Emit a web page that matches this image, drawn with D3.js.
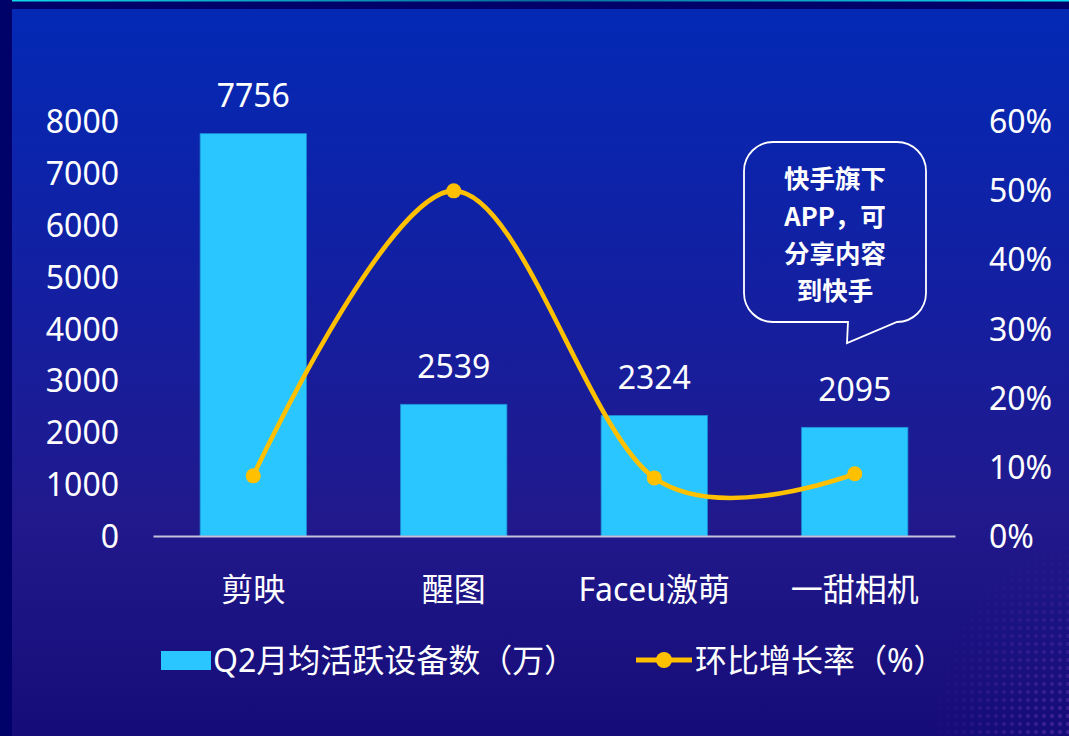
<!DOCTYPE html>
<html><head><meta charset="utf-8">
<script src="https://cdn.jsdelivr.net/npm/d3@7"></script>
<style>html,body{margin:0;padding:0;background:#01016a;} svg{display:block;}</style>
</head><body><svg id="c" width="1069" height="736"></svg>
<script>
// ---- data ----
const categories = ["剪映", "醒图", "Faceu激萌", "一甜相机"];
const activeDevices = [7756, 2539, 2324, 2095];          // Q2月均活跃设备数（万）
const growthRate = [8.7, 49.9, 8.4, 9.0];                // 环比增长率（%）
const leftTicks = [0, 1000, 2000, 3000, 4000, 5000, 6000, 7000, 8000];
const rightTicks = [0, 10, 20, 30, 40, 50, 60];
const seriesNames = ["Q2月均活跃设备数（万）", "环比增长率（%）"];
const calloutLines = ["快手旗下", "APP，可", "分享内容", "到快手"];

// ---- setup ----
const W = 1069, H = 736;
const svg = d3.select("#c");
const FONT = "'Noto Sans','Noto Sans CJK SC',sans-serif";
const fs = 32;
const barColor = "#29c6ff", lineColor = "#ffc000";

const defs = svg.append("defs");
const bg = defs.append("linearGradient").attr("id", "bg").attr("x1", 0).attr("y1", 0).attr("x2", 0).attr("y2", 1);
[[0, "#0329b5"], [0.4, "#141fa0"], [0.7, "#21198c"], [1, "#160c78"]].forEach(s =>
  bg.append("stop").attr("offset", s[0]).attr("stop-color", s[1]));
const topLine = defs.append("linearGradient").attr("id", "tl");
[[0, "#10d8e8"], [0.5, "#0a6a9a"], [1, "#10e0f0"]].forEach(s =>
  topLine.append("stop").attr("offset", s[0]).attr("stop-color", s[1]));
// dotted decoration bottom-right
const pat = defs.append("pattern").attr("id", "dots").attr("width", 8).attr("height", 8).attr("patternUnits", "userSpaceOnUse");
pat.append("circle").attr("cx", 4).attr("cy", 4).attr("r", 2).attr("fill", "#6a3ab8");
const rg = defs.append("radialGradient").attr("id", "fade").attr("cx", 1).attr("cy", 1).attr("r", 1);
[[0, "#fff", 0.9], [0.6, "#fff", 0.4], [1, "#fff", 0]].forEach(s =>
  rg.append("stop").attr("offset", s[0]).attr("stop-color", s[1]).attr("stop-opacity", s[2]));
const mask = defs.append("mask").attr("id", "m");
mask.append("rect").attr("x", 930).attr("y", 540).attr("width", 139).attr("height", 196).attr("fill", "url(#fade)");

svg.append("rect").attr("width", W).attr("height", H).attr("fill", "#01016a");
svg.append("rect").attr("x", 12).attr("y", 9).attr("width", W - 12).attr("height", H - 9).attr("fill", "url(#bg)");
svg.append("rect").attr("x", 930).attr("y", 540).attr("width", 139).attr("height", 196)
  .attr("fill", "url(#dots)").attr("mask", "url(#m)").attr("opacity", 0.6);
svg.append("rect").attr("x", 12).attr("y", 0).attr("width", W - 12).attr("height", 1.5).attr("fill", "url(#tl)");

// ---- scales ----
const x = d3.scaleBand().domain(categories).range([153, 955]).padding(0);
const yL = d3.scaleLinear().domain([0, 8000]).range([536, 121]);
const yR = d3.scaleLinear().domain([0, 60]).range([536, 121]);
const barW = x.bandwidth() * 0.53;
const cx = c => x(c) + x.bandwidth() / 2;

// ---- axes ----
const axL = svg.append("g").attr("transform", "translate(119,0)")
  .call(d3.axisLeft(yL).tickValues(leftTicks).tickSize(0).tickPadding(0).tickFormat(d3.format("d")));
const axR = svg.append("g").attr("transform", "translate(989,0)")
  .call(d3.axisRight(yR).tickValues(rightTicks).tickSize(0).tickPadding(0).tickFormat(d => d + "%"));
[axL, axR].forEach(a => {
  a.select(".domain").remove();
  a.selectAll("text").attr("fill", "#fff").attr("font-family", FONT).attr("font-size", fs).attr("dy", "0.36em");
});

// bars
svg.append("g").selectAll("rect").data(activeDevices).join("rect")
  .attr("x", (d, i) => cx(categories[i]) - barW / 2)
  .attr("y", d => yL(d))
  .attr("width", barW)
  .attr("height", d => yL(0) - yL(d))
  .attr("fill", barColor)
  .attr("stroke", "#1e8fd6").attr("stroke-width", 0.8);

// bar labels
svg.append("g").selectAll("text").data(activeDevices).join("text")
  .attr("x", (d, i) => cx(categories[i]))
  .attr("y", d => yL(d) - 38)
  .attr("dy", "0.36em")
  .attr("text-anchor", "middle").attr("fill", "#fff")
  .attr("font-family", FONT).attr("font-size", fs)
  .text(d => d);

// baseline (category axis)
const axB = svg.append("g").attr("transform", "translate(0,536)")
  .call(d3.axisBottom(x).tickSize(0).tickPadding(0));
axB.select(".domain").attr("stroke", "#c4c2dc").attr("stroke-width", 2);
axB.selectAll("text").attr("fill", "#fff").attr("font-family", FONT).attr("font-size", fs)
  .attr("dy", 0).attr("y", 53 + 12);

// line
const pts = growthRate.map((v, i) => [cx(categories[i]), yR(v)]);
svg.append("path").attr("d", d3.line().curve(d3.curveCatmullRom.alpha(0))(pts))
  .attr("fill", "none").attr("stroke", lineColor).attr("stroke-width", 4.6);
svg.append("g").selectAll("circle").data(pts).join("circle")
  .attr("cx", d => d[0]).attr("cy", d => d[1]).attr("r", 7.5).attr("fill", lineColor);

// ---- legend ----
const lg = svg.append("g");
lg.append("rect").attr("x", 161).attr("y", 651).attr("width", 50).attr("height", 19).attr("fill", barColor);
lg.append("text").attr("x", 213).attr("y", 660).attr("dy", "0.37em").attr("fill", "#fff")
  .attr("font-family", FONT).attr("font-size", fs).text(seriesNames[0]);
lg.append("line").attr("x1", 636).attr("x2", 692).attr("y1", 660).attr("y2", 660)
  .attr("stroke", lineColor).attr("stroke-width", 5);
lg.append("circle").attr("cx", 664).attr("cy", 660).attr("r", 8).attr("fill", lineColor);
lg.append("text").attr("x", 695).attr("y", 660).attr("dy", "0.37em").attr("fill", "#fff")
  .attr("font-family", FONT).attr("font-size", fs).text(seriesNames[1]);

// ---- callout ----
const bx0 = 744, bx1 = 926, by0 = 142, by1 = 322, r = 29;
const path = `M${bx0 + r},${by0} H${bx1 - r} A${r},${r} 0 0 1 ${bx1},${by0 + r} V${by1 - r} A${r},${r} 0 0 1 ${bx1 - r},${by1}
  L847,343 L848,${by1} H${bx0 + r} A${r},${r} 0 0 1 ${bx0},${by1 - r} V${by0 + r} A${r},${r} 0 0 1 ${bx0 + r},${by0} Z`;
svg.append("path").attr("d", path).attr("fill", "none").attr("stroke", "#fff").attr("stroke-width", 1.8);
const cfs = 25.5, lineGap = 37.2;
svg.append("g").selectAll("text").data(calloutLines).join("text")
  .attr("x", 835).attr("y", (d, i) => 179 + i * lineGap).attr("dy", "0.37em")
  .attr("text-anchor", "middle").attr("fill", "#fff")
  .attr("font-family", "'Noto Sans CJK SC',sans-serif").attr("font-weight", "bold").attr("font-size", cfs)
  .text(d => d);
</script></body></html>
